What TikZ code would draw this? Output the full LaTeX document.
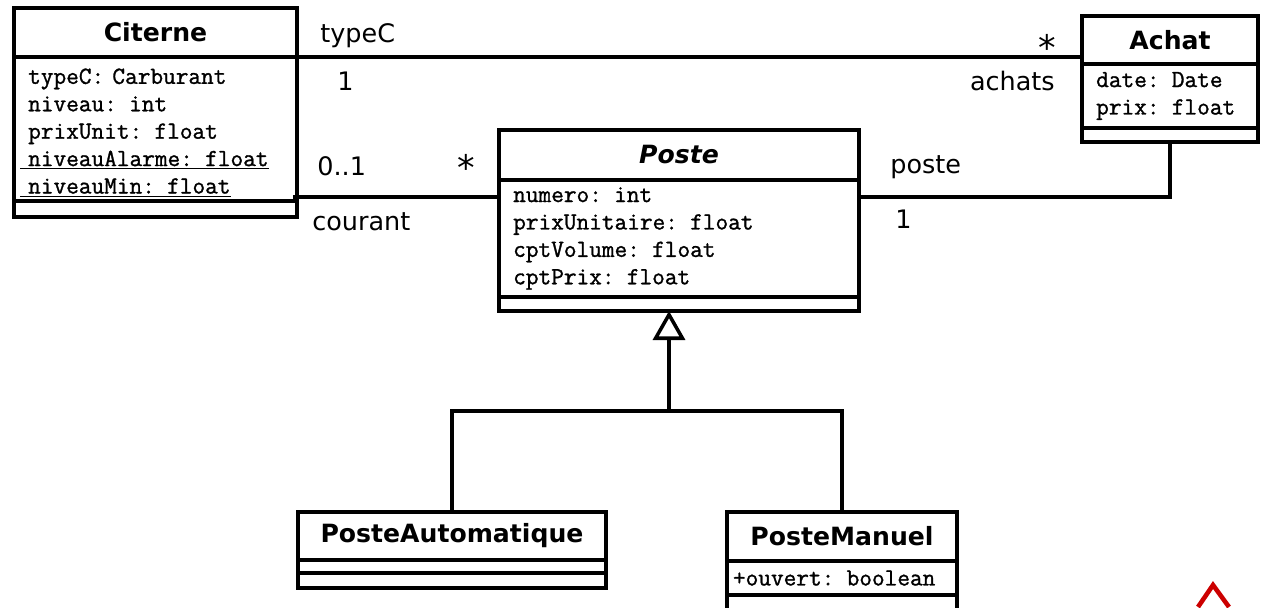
\documentclass[tikz,border=0pt]{standalone}
\usepackage{fontspec}
\setmainfont{DejaVu Sans}
\setmonofont{Latin Modern Mono}[FakeBold=1.2]
\usepackage{tikz}
\usetikzlibrary{arrows.meta, positioning}
\newcommand{\clsfont}{\fontsize{14.3}{17}\selectfont\bfseries}
\newcommand{\attfont}{\fontsize{14}{15.6}\selectfont\ttfamily}
\newcommand{\lblfont}{\fontsize{14.5}{17}\selectfont}
\definecolor{markred}{RGB}{204,0,0}
\tikzset{
  cls/.style={rectangle, draw=black, line width=2pt, font=\clsfont, inner sep=0pt,
              outer sep=0pt, minimum height=0.96cm, anchor=north west},
  attbox/.style={rectangle, draw=black, line width=2pt, font=\attfont, align=left,
                 inner xsep=0.12cm, inner ysep=0pt, outer sep=0pt},
  opbox/.style={rectangle, draw=black, line width=2pt, inner sep=0pt, outer sep=0pt},
  assoc/.style={line width=2pt},
  inherit/.style={line width=2pt, -{Triangle[open, length=0.58cm, width=0.64cm]}},
  mult/.style={font=\lblfont, inner sep=0pt, anchor=base west},
  star/.style={font=\fontsize{20}{22}\selectfont, inner sep=0pt, anchor=base},
}

\begin{document}
\begin{tikzpicture}[x=0.2mm, y=-0.2mm]
\useasboundingbox (0,0) rectangle (1262,607);
\clip (0,0) rectangle (1262,607);

\node[cls, minimum width=5.66cm, minimum height=0.98cm] (citerne) at (14,8) {Citerne};
\node[attbox, text width=5.42cm, minimum height=2.88cm, below=0pt of citerne] (citerne-attr)
  {\rule{0pt}{0.46cm}~typeC: Carburant\\~niveau: int\\~prixUnit: float\\\underline{~niveauAlarme: float}\\\underline{~niveauMin: float}};
\node[opbox, minimum width=5.66cm, minimum height=0.32cm, below=0pt of citerne-attr] (citerne-ops) {};

\node[cls, minimum width=3.52cm] (achat) at (1082,16) {Achat};
\node[attbox, text width=3.28cm, minimum height=1.28cm, below=0pt of achat] (achat-attr)
  {~date: Date\\~prix: float};
\node[opbox, minimum width=3.52cm, minimum height=0.28cm, below=0pt of achat-attr] (achat-ops) {};

\node[cls, minimum width=7.2cm, minimum height=1cm, font=\clsfont\itshape] (poste) at (499,130) {Poste};
\node[attbox, text width=6.96cm, minimum height=2.34cm, below=0pt of poste] (poste-attr)
  {~numero: int\\~prixUnitaire: float\\~cptVolume: float\\~cptPrix: float};
\node[opbox, minimum width=7.2cm, minimum height=0.28cm, below=0pt of poste-attr] (poste-ops) {};

\node[cls, minimum width=6.16cm] (auto) at (298,512) {PosteAutomatique};
\node[opbox, minimum width=6.16cm, minimum height=0.26cm, below=0pt of auto] (auto-attr) {};
\node[opbox, minimum width=6.16cm, minimum height=0.30cm, below=0pt of auto-attr] (auto-ops) {};

\node[cls, minimum width=4.6cm, minimum height=0.98cm] (manuel) at (727,512) {PosteManuel};
\node[attbox, text width=4.36cm, minimum height=0.68cm, below=0pt of manuel] (manuel-attr)
  {+ouvert: boolean};
\node[opbox, minimum width=4.6cm, minimum height=0.6cm, below=0pt of manuel-attr] (manuel-ops) {};

% associations
\draw[assoc] (citerne.south east) -- (citerne.south east -| achat.west);
\draw[assoc] ([xshift=-0.08cm]citerne-attr.east |- 0,197) -- (poste-attr.west |- 0,197);
\draw[assoc] (poste-attr.east |- 0,197) -| (achat-ops.south);

\node[mult] (m-typec)   at (320,42)  {typeC};
\node[mult] (m-one)     at (337,90)  {1};
\node[star] (m-achats*) at (1047,60) {*};
\node[mult, anchor=base east] (m-achats) at (1055,90) {achats};
\node[mult] (m-zeroone) at (317,175) {0..1};
\node[mult] (m-courant) at (312,230) {courant};
\node[star] (m-postes*) at (466,180) {*};
\node[mult] (m-poste)   at (890,173) {poste};
\node[mult] (m-onep)    at (895,228) {1};

% generalisation
\coordinate (fork) at (669,411);
\draw[inherit] (fork) -- (fork |- poste-ops.south);
\draw[assoc] (auto.north) |- (fork) -| (manuel.north);

\draw[markred, line width=2.6pt] (1198,607) -- (1213,585) -- (1229,607);
\end{tikzpicture}
\end{document}
